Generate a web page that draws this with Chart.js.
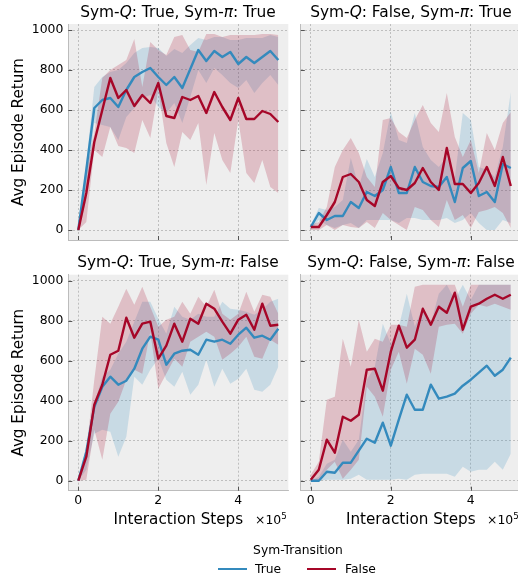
<!DOCTYPE html>
<html>
<head>
<meta charset="utf-8">
<script src="https://cdn.jsdelivr.net/npm/chart.js@4.4.0/dist/chart.umd.min.js"></script>
<style>
html, body { margin: 0; padding: 0; background: #fff; width: 518px; height: 582px; overflow: hidden; }
body { position: relative; font-family: "DejaVu Sans", sans-serif; color: #000; }
canvas { position: absolute; left: 0; top: 0; }
.ptitle { position: absolute; width: 300px; text-align: center; font-size: 15.4px; line-height: 18px; white-space: nowrap; }
.sci { position: absolute; font-size: 12.4px; line-height: 15px; white-space: nowrap; }
.sci span { position: relative; top: -5px; font-size: 8.7px; }
#legTitle { position: absolute; left: 198px; width: 200px; top: 543px; text-align: center; font-size: 12.3px; line-height: 15px; }
.legLine { position: absolute; height: 2.4px; }
.legText { position: absolute; font-size: 12.3px; line-height: 15px; top: 562px; }
</style>
</head>
<body>
<canvas id="tl" width="530" height="582"></canvas>
<canvas id="tr" width="530" height="582"></canvas>
<canvas id="bl" width="530" height="582"></canvas>
<canvas id="br" width="530" height="582"></canvas>

<div class="ptitle" style="left:28px;top:2.5px">Sym-<i>Q</i>: True, Sym-<i>π</i>: True</div>
<div class="ptitle" style="left:261px;top:2.5px">Sym-<i>Q</i>: False, Sym-<i>π</i>: True</div>
<div class="ptitle" style="left:28px;top:253px">Sym-<i>Q</i>: True, Sym-<i>π</i>: False</div>
<div class="ptitle" style="left:261px;top:253px">Sym-<i>Q</i>: False, Sym-<i>π</i>: False</div>

<div class="sci" style="left:255px;top:512px">×10<span>5</span></div>
<div class="sci" style="left:487px;top:512px">×10<span>5</span></div>

<div id="legTitle">Sym-Transition</div>
<div class="legLine" style="left:218px;top:568px;width:29px;background:#348ABD"></div>
<div class="legText" style="left:255px">True</div>
<div class="legLine" style="left:307px;top:568px;width:29px;background:#A60628"></div>
<div class="legText" style="left:345px">False</div>

<script>
// x positions (in units of 1e5 interaction steps)
const steps = [0, 0.2, 0.4, 0.6, 0.8, 1.0, 1.2, 1.4, 1.6, 1.8, 2.0, 2.2, 2.4, 2.6, 2.8, 3.0, 3.2, 3.4, 3.6, 3.8, 4.0, 4.2, 4.4, 4.6, 4.8, 5.0];
const xTicks = [0, 2, 4];
const yTicks = [0, 200, 400, 600, 800, 1000];

// Sym-Q True, Sym-pi True
const tlBlueMean = [0, 300, 610, 650, 660, 615, 700, 765, 790, 810, 765, 725, 765, 710, 805, 900, 845, 895, 865, 890, 830, 865, 835, 865, 895, 850];
const tlBlueHi = [0, 335, 715, 765, 790, 800, 835, 885, 910, 915, 910, 870, 905, 885, 925, 960, 950, 965, 965, 950, 950, 960, 960, 960, 975, 965];
const tlBlueLo = [0, 150, 535, 525, 515, 450, 565, 610, 660, 675, 615, 585, 635, 535, 665, 800, 735, 810, 775, 735, 710, 750, 685, 735, 775, 725];
const tlRedMean = [0, 185, 440, 600, 760, 660, 700, 620, 675, 635, 735, 570, 560, 665, 650, 670, 585, 690, 615, 550, 660, 555, 555, 595, 580, 540];
const tlRedHi = [0, 300, 485, 760, 800, 825, 850, 955, 715, 940, 900, 875, 965, 975, 900, 890, 980, 980, 965, 975, 975, 975, 975, 980, 980, 975];
const tlRedLo = [0, 40, 400, 365, 515, 420, 410, 385, 550, 460, 700, 435, 315, 490, 450, 535, 225, 485, 350, 285, 550, 285, 235, 350, 215, 185];

// Sym-Q False, Sym-pi True
const trBlueMean = [15, 85, 50, 70, 70, 140, 110, 190, 170, 200, 315, 185, 185, 315, 240, 220, 215, 265, 140, 310, 345, 170, 190, 140, 330, 310];
const trBlueHi = [25, 110, 100, 115, 150, 360, 215, 355, 265, 385, 590, 450, 435, 585, 415, 350, 315, 365, 260, 585, 550, 315, 300, 265, 415, 690];
const trBlueLo = [0, 50, 25, 10, 25, 35, 10, 50, 50, 50, 50, 35, 60, 60, 50, 50, 50, 60, 35, 50, 85, 35, 0, 0, 50, 35];
const trRedMean = [15, 15, 75, 140, 265, 280, 240, 150, 120, 240, 270, 210, 200, 235, 310, 240, 200, 410, 230, 230, 185, 235, 315, 220, 365, 220];
const trRedHi = [25, 40, 115, 315, 400, 460, 385, 265, 215, 550, 560, 490, 460, 550, 625, 535, 490, 685, 465, 365, 450, 285, 485, 400, 535, 590];
const trRedLo = [0, 0, 25, 0, 25, 15, 10, 40, 10, 85, 50, 25, 0, 115, 100, 50, 15, 150, 50, 75, 10, 90, 100, 115, 85, 10];

// Sym-Q True, Sym-pi False
const blBlueMean = [0, 145, 370, 470, 520, 480, 500, 560, 660, 720, 705, 580, 635, 650, 655, 630, 705, 695, 705, 685, 730, 765, 715, 725, 705, 760];
const blBlueHi = [0, 170, 385, 520, 555, 635, 695, 795, 895, 895, 810, 735, 870, 820, 805, 835, 820, 820, 895, 860, 855, 845, 830, 855, 895, 910];
const blBlueLo = [0, 55, 235, 255, 245, 120, 220, 520, 480, 555, 610, 505, 470, 545, 430, 480, 605, 470, 560, 485, 510, 560, 455, 445, 480, 570];
const blRedMean = [0, 120, 380, 480, 630, 650, 815, 715, 785, 795, 610, 675, 785, 695, 810, 785, 885, 860, 795, 735, 805, 830, 755, 885, 775, 780];
const blRedHi = [0, 155, 505, 820, 785, 870, 960, 880, 970, 870, 770, 805, 820, 895, 835, 920, 870, 955, 835, 805, 835, 945, 845, 930, 920, 835];
const blRedLo = [0, 5, 255, 105, 335, 395, 505, 555, 535, 745, 460, 535, 610, 570, 695, 720, 745, 720, 605, 635, 670, 720, 620, 610, 705, 680];

// Sym-Q False, Sym-pi False
const brBlueMean = [0, 0, 45, 40, 90, 90, 150, 210, 190, 290, 175, 305, 430, 355, 355, 480, 410, 420, 435, 475, 505, 540, 575, 525, 555, 615];
const brBlueHi = [0, 20, 85, 105, 205, 145, 205, 505, 570, 785, 685, 770, 935, 770, 870, 785, 935, 980, 905, 980, 905, 980, 980, 980, 980, 980];
const brBlueLo = [0, 0, 5, 5, 5, 10, 30, 5, 5, 5, 5, 10, 5, 30, 35, 35, 35, 35, 20, 70, 45, 55, 55, 95, 55, 135];
const brRedMean = [5, 55, 205, 140, 320, 300, 330, 555, 560, 450, 645, 775, 665, 705, 860, 780, 870, 840, 940, 755, 870, 885, 910, 930, 910, 930];
const brRedHi = [30, 95, 405, 420, 710, 570, 805, 645, 710, 695, 780, 780, 770, 970, 980, 980, 980, 980, 980, 870, 980, 980, 980, 980, 980, 980];
const brRedLo = [0, 5, 55, 95, 10, 55, 105, 470, 420, 320, 555, 645, 485, 660, 630, 535, 770, 780, 785, 735, 835, 880, 870, 885, 870, 855];

const BLUE = "#348ABD";
const RED = "#A60628";
const FONT = "'DejaVu Sans', sans-serif";

const panelBg = {
	id: "panelBg",
	beforeDraw(chart) {
		const a = chart.chartArea;
		const ctx = chart.ctx;
		ctx.save();
		ctx.fillStyle = "#eeeeee";
		ctx.fillRect(a.left, a.top, a.right - a.left, a.bottom - a.top);
		ctx.restore();
	}
};

// matplotlib-like ticks pointing into the axes
const inwardTicks = {
	id: "inwardTicks",
	afterDraw(chart) {
		const a = chart.chartArea;
		const ctx = chart.ctx;
		ctx.save();
		ctx.strokeStyle = "#555";
		ctx.lineWidth = 1;
		ctx.beginPath();
		xTicks.forEach(function(v) {
			const x = Math.round(chart.scales.x.getPixelForValue(v)) + 0.5;
			ctx.moveTo(x, a.bottom);
			ctx.lineTo(x, a.bottom - 4);
		});
		yTicks.forEach(function(v) {
			const y = Math.round(chart.scales.y.getPixelForValue(v)) + 0.5;
			ctx.moveTo(a.left, y);
			ctx.lineTo(a.left + 4, y);
		});
		ctx.stroke();
		ctx.restore();
	}
};

function pts(arr) {
	return steps.map(function(s, i) { return { x: s, y: arr[i] }; });
}

function band(arr, color, order, fill) {
	return {
		data: pts(arr),
		borderWidth: 0,
		pointRadius: 0,
		backgroundColor: color,
		fill: fill,
		order: order
	};
}

function meanLine(arr, color, order) {
	return {
		data: pts(arr),
		borderColor: color,
		borderWidth: 2.4,
		borderJoinStyle: "round",
		pointRadius: 0,
		fill: false,
		order: order
	};
}

const W = 530, H = 582;
const panels = [
	{ id: "tl", area: { left: 68.3, top: 24, right: 288.3, bottom: 240 }, showY: true, showX: false,
		blue: [tlBlueHi, tlBlueLo, tlBlueMean], red: [tlRedHi, tlRedLo, tlRedMean] },
	{ id: "tr", area: { left: 300.8, top: 24, right: 520.8, bottom: 240 }, showY: false, showX: false,
		blue: [trBlueHi, trBlueLo, trBlueMean], red: [trRedHi, trRedLo, trRedMean] },
	{ id: "bl", area: { left: 68.3, top: 274.7, right: 288.3, bottom: 490.7 }, showY: true, showX: true,
		blue: [blBlueHi, blBlueLo, blBlueMean], red: [blRedHi, blRedLo, blRedMean] },
	{ id: "br", area: { left: 300.8, top: 274.7, right: 520.8, bottom: 490.7 }, showY: false, showX: true,
		blue: [brBlueHi, brBlueLo, brBlueMean], red: [brRedHi, brRedLo, brRedMean] }
];

panels.forEach(function(p) {
	const yW = p.showY ? p.area.left : 0;
	const xH = p.showX ? 38.4 : 0;
	// bands first (blue under red), then both mean lines on top
	const datasets = [
		band(p.red[0], "rgba(166, 6, 40, 0.2)", 3, "+1"),
		band(p.red[1], "rgba(166, 6, 40, 0.2)", 3, false),
		meanLine(p.red[2], RED, 1),
		band(p.blue[0], "rgba(52, 138, 189, 0.2)", 4, "+1"),
		band(p.blue[1], "rgba(52, 138, 189, 0.2)", 4, false),
		meanLine(p.blue[2], BLUE, 2)
	];
	new Chart(document.getElementById(p.id), {
		type: "line",
		data: { datasets: datasets },
		options: {
			responsive: false,
			animation: false,
			devicePixelRatio: 1,
			events: [],
			layout: {
				padding: {
					left: p.area.left - yW,
					top: p.area.top,
					right: W - p.area.right,
					bottom: H - p.area.bottom - xH
				}
			},
			plugins: {
				legend: { display: false },
				tooltip: { enabled: false }
			},
			scales: {
				x: {
					type: "linear",
					min: -0.25,
					max: 5.25,
					afterBuildTicks: function(axis) { axis.ticks = xTicks.map(function(v) { return { value: v }; }); },
					afterFit: function(scale) { scale.height = xH; },
					grid: { color: "#b2b2b2", lineWidth: 0.8, drawTicks: false },
					border: { display: true, color: "#bcbcbc", width: 1, dash: [2, 2] },
					ticks: {
						display: p.showX,
						color: "#000",
						padding: 3,
						maxRotation: 0,
						font: { family: FONT, size: 12.4 },
						callback: function(v) { return String(v); }
					},
					title: {
						display: p.showX,
						text: "Interaction Steps",
						color: "#000",
						padding: { top: 0, bottom: 0 },
						font: { family: FONT, size: 15.2 }
					}
				},
				y: {
					type: "linear",
					min: -50,
					max: 1030,
					afterBuildTicks: function(axis) { axis.ticks = yTicks.map(function(v) { return { value: v }; }); },
					afterFit: function(scale) { scale.width = yW; },
					grid: { color: "#b2b2b2", lineWidth: 0.8, drawTicks: false },
					border: { display: true, color: "#bcbcbc", width: 1, dash: [2, 2] },
					ticks: {
						display: p.showY,
						color: "#000",
						padding: 5,
						font: { family: FONT, size: 12.4 },
						callback: function(v) { return String(v); }
					},
					title: {
						display: p.showY,
						text: "Avg Episode Return",
						color: "#000",
						padding: { top: 10, bottom: 0 },
						font: { family: FONT, size: 15.2 }
					}
				}
			}
		},
		plugins: [panelBg, inwardTicks]
	});
});
</script>
</body>
</html>
